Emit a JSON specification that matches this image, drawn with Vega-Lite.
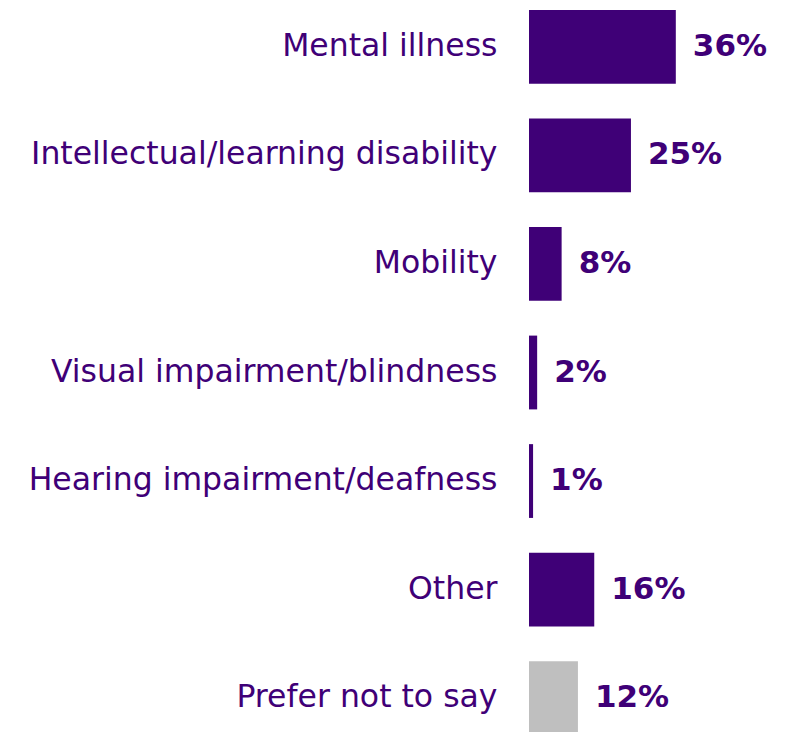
{
  "$schema": "https://vega.github.io/schema/vega-lite/v6.json",
  "autosize": "none",
  "width": 261,
  "height": 725,
  "padding": {"left": 529, "top": 10, "right": 0, "bottom": 0},
  "background": "white",
  "config": {"view": {"stroke": null}, "font": "DejaVu Sans"},
  "data": {
    "values": [
      {"category": "Mental illness", "value": 0.36, "group": "a"},
      {"category": "Intellectual/learning disability", "value": 0.25, "group": "a"},
      {"category": "Mobility", "value": 0.08, "group": "a"},
      {"category": "Visual impairment/blindness", "value": 0.02, "group": "a"},
      {"category": "Hearing impairment/deafness", "value": 0.01, "group": "a"},
      {"category": "Other", "value": 0.16, "group": "a"},
      {"category": "Prefer not to say", "value": 0.12, "group": "b"}
    ]
  },
  "encoding": {
    "y": {
      "field": "category",
      "type": "nominal",
      "sort": null,
      "scale": {"paddingInner": 0.32, "paddingOuter": 0},
      "axis": {
        "title": null,
        "ticks": false,
        "domain": false,
        "labelPadding": 32,
        "labelFontSize": 31.5,
        "labelColor": "#3F0077",
        "labelFont": "DejaVu Sans",
        "labelLimit": 600
      }
    },
    "x": {
      "field": "value",
      "type": "quantitative",
      "scale": {"domain": [0, 0.64]},
      "axis": null
    }
  },
  "layer": [
    {
      "mark": {"type": "bar"},
      "encoding": {
        "color": {
          "field": "group",
          "type": "nominal",
          "scale": {"domain": ["a", "b"], "range": ["#3F0077", "#BFBFBF"]},
          "legend": null
        }
      }
    },
    {
      "mark": {"type": "text", "align": "left", "baseline": "middle", "dx": 17, "fontSize": 31, "fontWeight": "bold", "color": "#3F0077", "font": "DejaVu Sans"},
      "encoding": {
        "text": {"field": "value", "type": "quantitative", "format": ".0%"}
      }
    }
  ]
}
